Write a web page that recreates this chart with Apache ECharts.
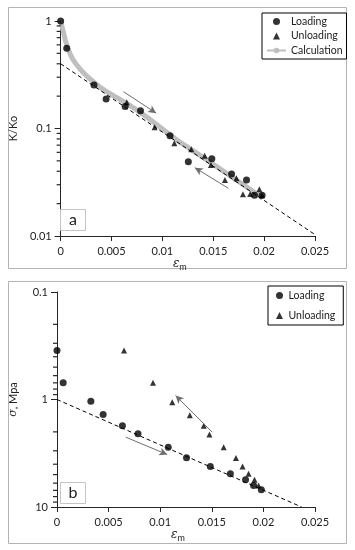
<!DOCTYPE html>
<html>
<head>
<meta charset="utf-8">
<script src="https://cdn.jsdelivr.net/npm/echarts@6/dist/echarts.min.js"></script>
<style>html,body{margin:0;padding:0;background:#fff}#c{width:355px;height:550px}</style>
</head>
<body>
<div id="c"></div>
<script>
// ---------- data ----------
// Panel a : K/Ko vs strain
const aLoadX = [0, 0.0006, 0.00328, 0.00447, 0.00634, 0.00785, 0.01075, 0.01255, 0.01486, 0.0168, 0.01827, 0.01905, 0.0198];
const aLoadY = [1, 0.557, 0.254, 0.188, 0.16, 0.146, 0.0857, 0.049, 0.0524, 0.0377, 0.0332, 0.0239, 0.0239];
const aUnloadX = [0.0065, 0.00924, 0.01117, 0.01284, 0.01416, 0.01477, 0.01615, 0.01728, 0.01792, 0.01863, 0.01953, 0.0198];
const aUnloadY = [0.175, 0.1026, 0.0728, 0.064, 0.0558, 0.0457, 0.0332, 0.0344, 0.0244, 0.0246, 0.0272, 0.0239];
const aCalcX = [0, 0.00012, 0.00023, 0.00045, 0.0007, 0.00095, 0.0012, 0.0015, 0.00183, 0.0022, 0.00264, 0.0033, 0.00393, 0.0047, 0.00553, 0.0065, 0.00746, 0.0086, 0.00972, 0.01165, 0.01293, 0.01486, 0.0168, 0.01873, 0.01985];
const aCalcY = [1, 0.9, 0.82, 0.67, 0.56, 0.49, 0.44, 0.40, 0.365, 0.333, 0.303, 0.268, 0.24, 0.215, 0.194, 0.171, 0.149, 0.125, 0.104, 0.0754, 0.063, 0.0474, 0.0356, 0.0268, 0.0224];
const aFitX = [0, 0.025];
const aFitY = [0.4, 0.0103];
const aArrows = [
  [[0.00618, 0.22], [0.0094, 0.139]],
  [[0.01648, 0.0278], [0.01319, 0.0432]]
];
// Panel b : sigma vs strain
const bLoadX = [0, 0.0006, 0.00328, 0.00447, 0.00634, 0.00785, 0.01078, 0.01255, 0.01486, 0.0168, 0.01827, 0.01905, 0.0198];
const bLoadY = [0.35, 0.70, 1.04, 1.38, 1.75, 2.08, 2.78, 3.49, 4.2, 4.91, 5.59, 6.3, 6.92];
const bUnloadX = [0.0065, 0.0093, 0.01117, 0.01287, 0.01422, 0.01477, 0.01615, 0.01734, 0.01798, 0.01856, 0.01914, 0.01953];
const bUnloadY = [0.35, 0.70, 1.06, 1.4, 1.75, 2.12, 2.78, 3.51, 4.2, 4.91, 5.59, 6.3];
const bFitX = [0, 0.0237];
const bFitY = [1, 10];
const bArrows = [
  [[0.01503, 2.01], [0.01149, 0.918]],
  [[0.00666, 2.24], [0.01068, 3.25]]
];
// axis minor ticks (log)
const aMinorTicks = [0.02,0.03,0.04,0.05,0.06,0.07,0.08,0.09,0.2,0.3,0.4,0.5,0.6,0.7,0.8,0.9];
const bMinorTicks = [0.2,0.3,0.4,0.5,0.6,0.7,0.8,0.9,2,3,4,5,6,7,8,9];

const zip = (xs, ys) => xs.map((x, i) => [x, ys[i]]);
const FONT = 'Lato';
const AX = '#262626';
const TRI = 'path://M3,0L6,6L0,6Z';

function xAxisCfg(gi) {
  return {
    type: 'value', gridIndex: gi, min: 0, max: 0.025, interval: 0.005,
    axisLine: {show: true, lineStyle: {color: AX, width: 1}},
    axisTick: {show: true, length: 5, inside: false, lineStyle: {color: AX}},
    splitLine: {show: false},
    axisLabel: {color: '#222', fontFamily: FONT, fontSize: 11, margin: 10,
      formatter: v => String(+v.toFixed(3))},
    name: '{e|ε}{s|m}', nameLocation: 'middle', nameGap: 20,
    nameTextStyle: {padding: [0, 16, 0, 0], rich: {
      e: {fontFamily: 'DejaVu Serif', fontStyle: 'italic', fontSize: 12, color: '#222'},
      s: {fontFamily: FONT, fontSize: 9, color: '#222', padding: [6, 0, 0, 0]}
    }}
  };
}
function yAxisCfg(gi, min, max, inverse, name) {
  return {
    type: 'log', logBase: 10, gridIndex: gi, min: min, max: max, inverse: inverse,
    axisLine: {show: true, lineStyle: {color: AX, width: 1}},
    axisTick: {show: true, length: 6, lineStyle: {color: AX}},
    minorTick: {show: false},
    splitLine: {show: false},
    axisLabel: {color: '#222', fontFamily: FONT, fontSize: 11, margin: 9,
      formatter: v => String(+(+v).toPrecision(3))},
    name: name, nameLocation: 'middle', nameGap: 38,
    nameTextStyle: {fontFamily: FONT, fontSize: 11, color: '#222',
      rich: {i: {fontFamily: 'DejaVu Serif', fontStyle: 'italic', fontSize: 11, color: '#222'}}}
  };
}
function minorSeries(gi, vals) {
  return {
    type: 'custom', xAxisIndex: gi, yAxisIndex: gi, clip: false, silent: true, z: 5,
    data: vals.map(v => [0, v]),
    renderItem: (params, api) => {
      const p = api.coord([api.value(0), api.value(1)]);
      return {type: 'line', shape: {x1: p[0] - 4, y1: p[1], x2: p[0], y2: p[1]},
        style: {stroke: AX, lineWidth: 1.2}};
    }
  };
}
function arrowLines(arr) {
  return {
    silent: true, symbol: ['none', 'arrow'], symbolSize: [6, 8],
    label: {show: false}, emphasis: {disabled: true},
    lineStyle: {color: '#6e6e6e', width: 1, type: 'solid'},
    data: arr.map(a => [{coord: a[0]}, {coord: a[1]}])
  };
}
function scatter(gi, name, sym, size, data) {
  return {type: 'scatter', name: name, xAxisIndex: gi, yAxisIndex: gi, symbol: sym,
    symbolSize: size, itemStyle: {color: '#000'}, z: 4, data: data};
}
function fitLine(gi, data, arrows) {
  return {type: 'line', xAxisIndex: gi, yAxisIndex: gi, data: data, symbol: 'none', z: 3,
    lineStyle: {color: '#000', width: 1, type: [4, 3]}, markLine: arrowLines(arrows)};
}

const option = {
  animation: false,
  backgroundColor: '#fff',
  textStyle: {fontFamily: FONT},
  grid: [
    {left: 56, top: 21, width: 259, height: 215},
    {left: 56, top: 292, width: 259, height: 215}
  ],
  xAxis: [xAxisCfg(0), xAxisCfg(1)],
  yAxis: [yAxisCfg(0, 0.01, 1, false, 'K/Ko'), yAxisCfg(1, 0.1, 10, true, '{i|σ}, Mpa')],
  legend: [
    {data: [{name: 'Loading', icon: 'circle'}, {name: 'Unloading', icon: TRI}, 'Calculation'],
     orient: 'vertical', left: 262, top: 13, itemWidth: 19, itemHeight: 7, itemGap: 3.5, itemTextGap: 2,
     padding: [3, 4, 3, 4], borderColor: '#000', borderWidth: 1, backgroundColor: '#fff',
     selectedMode: false, textStyle: {fontFamily: FONT, fontSize: 10.5, color: '#222'}},
    {data: [{name: 'Loading', icon: 'circle'}, {name: 'Unloading', icon: TRI}],
     orient: 'vertical', left: 268, top: 286, itemWidth: 8, itemHeight: 7, itemGap: 9, itemTextGap: 3,
     padding: [4, 8, 4, 8], borderColor: '#000', borderWidth: 1, backgroundColor: '#fff',
     selectedMode: false, textStyle: {fontFamily: FONT, fontSize: 10.5, color: '#222'}}
  ],
  graphic: [
    {type: 'rect', silent: true, z: -10, shape: {x: 8.5, y: 7.5, width: 338, height: 261},
     style: {fill: 'none', stroke: '#b4b4b4', lineWidth: 1}},
    {type: 'rect', silent: true, z: -10, shape: {x: 8.5, y: 281.5, width: 338, height: 262},
     style: {fill: 'none', stroke: '#b4b4b4', lineWidth: 1}},
    {type: 'rect', silent: true, z: 10, shape: {x: 60.5, y: 209.5, width: 25, height: 21},
     style: {fill: '#fff', stroke: '#c4c4c4', lineWidth: 1}},
    {type: 'text', silent: true, z: 11, x: 73, y: 220,
     style: {text: 'a', font: '16px Lato', fill: '#222', align: 'center', verticalAlign: 'middle'}},
    {type: 'rect', silent: true, z: 10, shape: {x: 60.5, y: 482.5, width: 25, height: 21},
     style: {fill: '#fff', stroke: '#c4c4c4', lineWidth: 1}},
    {type: 'text', silent: true, z: 11, x: 73, y: 493,
     style: {text: 'b', font: '16px Lato', fill: '#222', align: 'center', verticalAlign: 'middle'}}
  ],
  series: [
    {type: 'line', name: 'Calculation', xAxisIndex: 0, yAxisIndex: 0, data: zip(aCalcX, aCalcY),
     smooth: false, symbol: 'none', z: 2, lineStyle: {color: '#bfbfbf', width: 5, join: 'round'}, itemStyle: {color: '#bfbfbf'}},
    fitLine(0, zip(aFitX, aFitY), aArrows),
    scatter(0, 'Loading', 'circle', 7, zip(aLoadX, aLoadY)),
    scatter(0, 'Unloading', 'triangle', 6, zip(aUnloadX, aUnloadY)),
    minorSeries(0, aMinorTicks),
    fitLine(1, zip(bFitX, bFitY), bArrows),
    scatter(1, 'Loading', 'circle', 7, zip(bLoadX, bLoadY)),
    scatter(1, 'Unloading', 'triangle', 6, zip(bUnloadX, bUnloadY)),
    minorSeries(1, bMinorTicks)
  ]
};
const chart = echarts.init(document.getElementById('c'), null, {renderer: 'canvas'});
chart.setOption(option);
</script>
</body>
</html>
